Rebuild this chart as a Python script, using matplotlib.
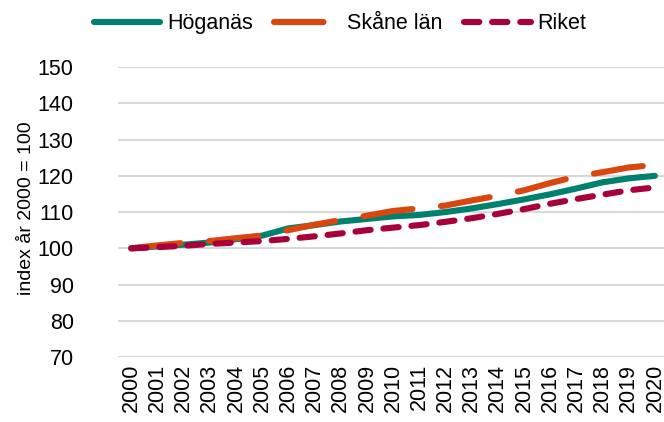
import matplotlib
matplotlib.use('Agg')
import matplotlib.pyplot as plt

plt.rcParams['font.family'] = ['Liberation Sans', 'DejaVu Sans']

years = [str(y) for y in range(2000, 2021)]
hoganas = [100, 100.5, 101.0, 101.6, 102.5, 103.5, 105.5, 106.4, 107.4, 108.1, 108.8,
           109.2, 110.0, 111.0, 112.2, 113.5, 114.9, 116.5, 118.2, 119.3, 120.0]
skane = [100, 100.8, 101.5, 102.0, 102.8, 103.5, 105.0, 106.5, 107.8, 109.0, 110.3,
         111.0, 111.8, 113.2, 114.5, 116.0, 118.0, 119.8, 121.0, 122.3, 123.0]
riket = [100, 100.3, 100.7, 101.2, 101.6, 102.0, 102.6, 103.3, 104.1, 105.0, 105.7,
         106.4, 107.3, 108.3, 109.5, 110.8, 112.3, 113.6, 114.8, 116.0, 116.8]
yticks = [70, 80, 90, 100, 110, 120, 130, 140, 150]

fig = plt.figure(figsize=(6.64, 4.22), dpi=100)
ax = fig.add_axes([0.178, 0.154, 0.828, 0.687])

x = list(range(len(years)))
lw = 4.4
ax.plot(x, hoganas, color='#00806E', lw=lw, solid_capstyle='round', label='Höganäs')
ax.plot(x, skane, color='#D9470F', lw=lw, dashes=(8.1, 4.7), dash_capstyle='round',
        label='Skåne län')
ax.plot(x, riket, color='#A8003A', lw=lw, dashes=(2.5, 2.1), dash_capstyle='round',
        label='Riket')

ax.set_xlim(-0.5, 20.5)
ax.set_ylim(70, 150)
ax.set_yticks(yticks)
ax.set_xticks(x)
ax.set_xticklabels(years, rotation=90)
ax.tick_params(axis='both', length=0, labelsize=15.5, colors='black')
ax.tick_params(axis='y', pad=32)
ax.tick_params(axis='x', pad=5)
ax.grid(axis='y', color='#D9D9D9', lw=1.5)
ax.set_axisbelow(True)
for s in ax.spines.values():
    s.set_visible(False)

ax.set_ylabel('index år 2000 = 100', fontsize=14)
ax.yaxis.set_label_coords(-0.152, 0.514)

fig.legend(loc='center', bbox_to_anchor=(0.512, 0.944), ncol=3, frameon=False,
           fontsize=15.5, handlelength=3.1, columnspacing=1.0, handletextpad=0.3)

fig.savefig('out.png', dpi=100)
